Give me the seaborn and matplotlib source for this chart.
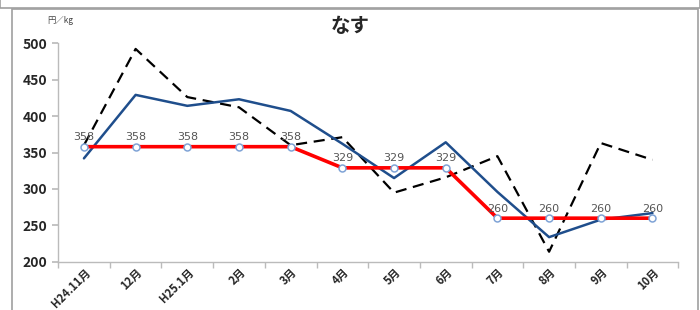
import numpy as np
import pandas as pd
import matplotlib
matplotlib.use("Agg")
import matplotlib.pyplot as plt
import seaborn as sns
from matplotlib.patches import Rectangle

sns.set_theme(style="white")
plt.rcParams['font.family'] = ['Noto Sans CJK JP', 'DejaVu Sans']

months = ['H24.11月', '12月', 'H25.1月', '2月', '3月', '4月', '5月', '6月',
          '7月', '8月', '9月', '10月']
price_this = [342, 429, 414, 423, 407, 362, 315, 364, 296, 234, 258, 267]
price_prev = [360, 492, 426, 412, 360, 371, 295, 316, 345, 214, 363, 340]
price_base = [358, 358, 358, 358, 358, 329, 329, 329, 260, 260, 260, 260]

df = pd.DataFrame({'x': np.arange(len(months)),
                   'this': price_this, 'prev': price_prev, 'base': price_base})

fig = plt.figure(figsize=(7, 3.1), dpi=100)
ax = fig.add_axes([0.083, 0.155, 0.886, 0.706])

# outer frame like the spreadsheet chart box
fig.patches.append(Rectangle((0.017, -0.01), 0.98, 0.98, transform=fig.transFigure,
                             fill=False, edgecolor='#a0a0a0', linewidth=1.2))
fig.patches.append(Rectangle((0.0, 0.975), 1.0, 0.05, transform=fig.transFigure,
                             fill=False, edgecolor='#a0a0a0', linewidth=1.2))

sns.lineplot(data=df, x='x', y='prev', ax=ax, color='black', linewidth=1.6,
             linestyle=(0, (5, 3)))
sns.lineplot(data=df, x='x', y='this', ax=ax, color='#1f4e8c', linewidth=1.8)
sns.lineplot(data=df, x='x', y='base', ax=ax, color='#ff0000', linewidth=2.6,
             marker='o', markersize=5, markerfacecolor='white',
             markeredgecolor='#7fa3d6', markeredgewidth=1.1)

for xi, v in zip(df['x'], price_base):
    ax.text(xi, v + 6, str(v), ha='center', va='bottom', fontsize=8,
            color='#555555', family=['DejaVu Sans'])

ax.set_xlim(-0.5, len(months) - 0.5)
ax.set_ylim(200, 500)
ax.set_yticks(range(200, 501, 50))
ax.set_xticks(df['x'])
ax.set_xticklabels(months, rotation=45, ha='right', rotation_mode='anchor',
                   fontsize=8, fontweight='bold')
ax.set_xticks(np.arange(-0.5, len(months) + 0.5, 1), minor=True)
ax.tick_params(axis='x', which='major', length=0, pad=3)
ax.tick_params(axis='x', which='minor', length=4, color='#bbbbbb', bottom=True)
ax.tick_params(axis='y', length=4, color='#bbbbbb', left=True, labelsize=10)
for lab in ax.get_yticklabels():
    lab.set_fontweight('bold')
ax.set_xlabel('')
ax.set_ylabel('')

for side in ['top', 'right']:
    ax.spines[side].set_visible(False)
for side in ['left', 'bottom']:
    ax.spines[side].set_color('#bbbbbb')
    ax.spines[side].set_linewidth(1.0)

fig.text(0.5, 0.915, 'なす', ha='center', va='center', fontsize=14, fontweight='bold')
fig.text(0.068, 0.935, '円／kg', ha='left', va='center', fontsize=6, color='#444444')

fig.savefig('out.png', dpi=100)
